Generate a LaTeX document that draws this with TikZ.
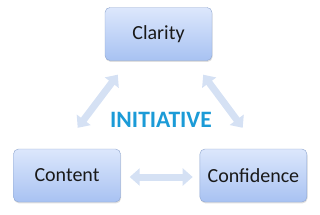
\documentclass[tikz,border=0pt]{standalone}
\usepackage{fontspec}
\setmainfont{Carlito}
\definecolor{BoxTop}{HTML}{DCE7FC}
\definecolor{BoxBottom}{HTML}{A8C2F2}
\definecolor{BoxEdge}{HTML}{8EA5CE}
\definecolor{ArrowFill}{HTML}{D5E1F4}
\definecolor{TitleBlue}{HTML}{1B9BD7}
\usepackage{tikz}
\usetikzlibrary{arrows.meta,positioning,shadows}

\begin{document}
\begin{tikzpicture}[
    x=1pt, y=-1pt,
    node distance=79pt,
    box/.style={draw=BoxEdge, rounded corners=5pt, align=center, font=\fontsize{20}{23}\selectfont,
      text=black!90, minimum width=107pt, minimum height=53pt, top color=BoxTop, bottom color=BoxBottom,
      drop shadow={opacity=0.25, shadow xshift=0.6pt, shadow yshift=-1.4pt}},
    fatarr/.style={{Triangle[width=17pt,length=10pt]}-{Triangle[width=17pt,length=10pt]},
      line width=7pt, ArrowFill}
  ]
    \useasboundingbox (0,0) rectangle (320,214);
    \node[box] (cla) at (158.5,34) {Clarity};
    \node[box] (con) at (67,175.5) {Content};
    \node[box, right=of con] (cnf) {Confidence};
    \node[font=\bfseries\fontsize{23.5}{26}\selectfont, text=TitleBlue] (ini) at (161,120) {INITIATIVE};
    \draw[fatarr] ([shift={(13,14)}]cla.south west) -- ([shift={(-43,-21)}]con.north east);
    \draw[fatarr] ([shift={(-9,14)}]cla.south east) -- ([shift={(43,-21)}]cnf.north west);
    \draw[fatarr] ([shift={(9,1.5)}]con.east) -- ([shift={(-7,1.5)}]cnf.west);
  \end{tikzpicture}
\end{document}
